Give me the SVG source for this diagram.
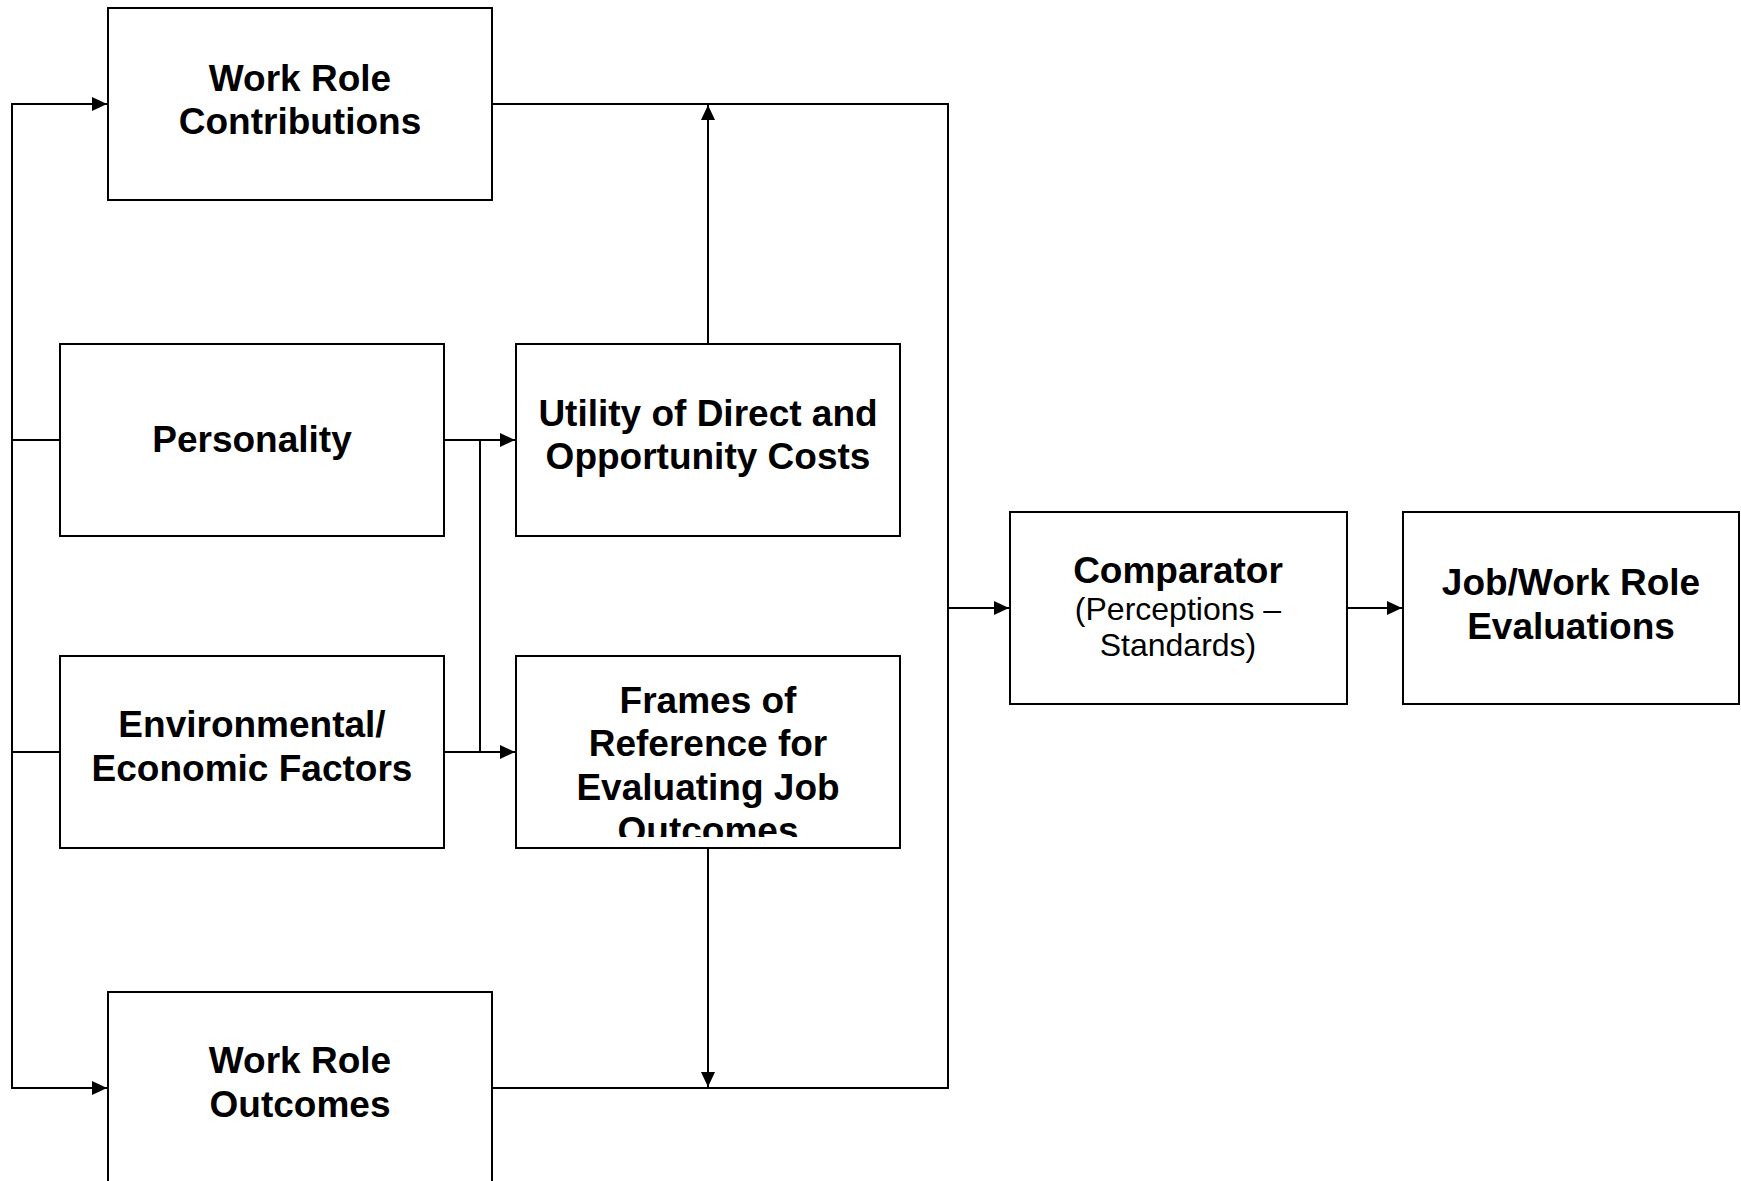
<svg xmlns="http://www.w3.org/2000/svg" width="1741" height="1181" viewBox="0 0 1741 1181">
<style>
.box{fill:#fff;stroke:#000;stroke-width:2}
.ln{fill:none;stroke:#000;stroke-width:2}
.t{font-family:"Liberation Sans",Arial,sans-serif;font-weight:bold;font-size:37px;fill:#000;text-anchor:middle}
.r{font-family:"Liberation Sans",Arial,sans-serif;font-weight:normal;font-size:32px;fill:#000;text-anchor:middle}
</style>
<defs>
<marker id="ah" viewBox="0 0 15 14" refX="15" refY="7" markerWidth="15" markerHeight="14" markerUnits="userSpaceOnUse" orient="auto">
<path d="M0,0 L15,7 L0,14 Z" fill="#000"/>
</marker>
<clipPath id="fclip"><rect x="516" y="656" width="384" height="181"/></clipPath>
</defs>
<rect width="1741" height="1181" fill="#fff"/>
<g id="connectors">
<path class="ln" d="M107,104 H12 V1088 H107" marker-end="url(#ah)"/>
<path class="ln" d="M12,104 H107" marker-end="url(#ah)"/>
<path class="ln" d="M12,440 H60"/>
<path class="ln" d="M12,752 H60"/>
<path class="ln" d="M444,440 H515" marker-end="url(#ah)"/>
<path class="ln" d="M444,752 H515" marker-end="url(#ah)"/>
<path class="ln" d="M480,440 V752"/>
<path class="ln" d="M708,344 V105" marker-end="url(#ah)"/>
<path class="ln" d="M492,104 H948 V1088 H492"/>
<path class="ln" d="M708,848 V1087" marker-end="url(#ah)"/>
<path class="ln" d="M948,608 H1009" marker-end="url(#ah)"/>
<path class="ln" d="M1347,608 H1402" marker-end="url(#ah)"/>
</g>
<g id="work-role-contributions">
<rect class="box" x="108" y="8" width="384" height="192"/>
<text class="t" x="300" y="91">Work Role</text>
<text class="t" x="300" y="134">Contributions</text>
</g>
<g id="personality">
<rect class="box" x="60" y="344" width="384" height="192"/>
<text class="t" x="252" y="452">Personality</text>
</g>
<g id="environmental">
<rect class="box" x="60" y="656" width="384" height="192"/>
<text class="t" x="252" y="737">Environmental/</text>
<text class="t" x="252" y="781">Economic Factors</text>
</g>
<g id="utility">
<rect class="box" x="516" y="344" width="384" height="192"/>
<text class="t" x="708" y="426">Utility of Direct and</text>
<text class="t" x="708" y="469">Opportunity Costs</text>
</g>
<g id="frames">
<rect class="box" x="516" y="656" width="384" height="192"/>
<g clip-path="url(#fclip)">
<text class="t" x="708" y="713">Frames of</text>
<text class="t" x="708" y="756">Reference for</text>
<text class="t" x="708" y="800">Evaluating Job</text>
<text class="t" x="708" y="843">Outcomes</text>
</g>
</g>
<g id="work-role-outcomes">
<rect class="box" x="108" y="992" width="384" height="220"/>
<text class="t" x="300" y="1073">Work Role</text>
<text class="t" x="300" y="1117">Outcomes</text>
</g>
<g id="comparator">
<rect class="box" x="1010" y="512" width="337" height="192"/>
<text class="t" x="1178" y="583">Comparator</text>
<text class="r" x="1178" y="620">(Perceptions –</text>
<text class="r" x="1178" y="656">Standards)</text>
</g>
<g id="job-evaluations">
<rect class="box" x="1403" y="512" width="336" height="192"/>
<text class="t" x="1571" y="595">Job/Work Role</text>
<text class="t" x="1571" y="639">Evaluations</text>
</g>
</svg>
